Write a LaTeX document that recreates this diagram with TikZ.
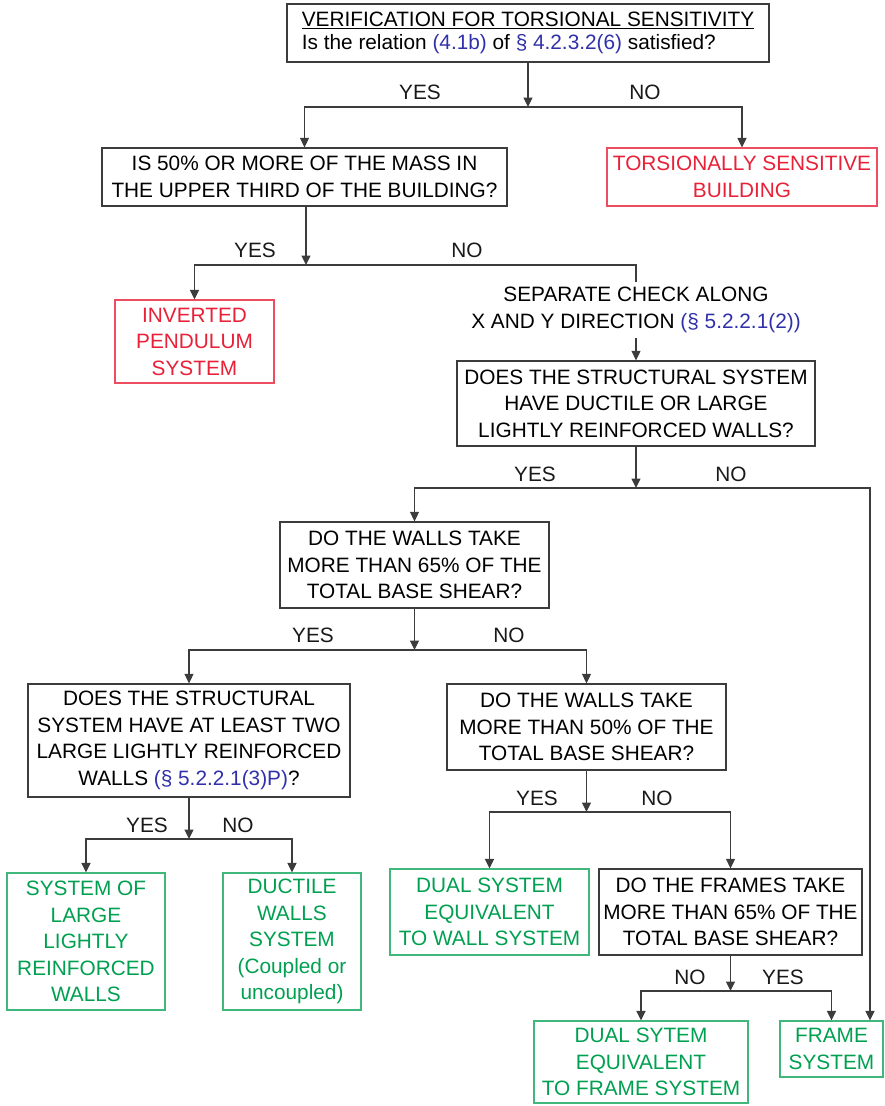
\documentclass[tikz,border=0pt]{standalone}
\usepackage{fontspec}
\setmainfont{Liberation Sans}
\usepackage{xcolor}
\usepackage{tikz}
\usetikzlibrary{arrows.meta}

\definecolor{linegray}{RGB}{60,60,60}
\definecolor{refblue}{RGB}{48,48,170}
\definecolor{alarmred}{RGB}{232,32,56}
\definecolor{okgreen}{RGB}{0,160,80}
\newcommand{\sref}[1]{\textcolor{refblue}{#1}}

\begin{document}
\begin{tikzpicture}[x=1pt, y=-1pt,
    font=\fontsize{20.8}{26.5}\selectfont,
    qbox/.style={draw=linegray, line width=1.3pt, align=center, inner sep=2pt},
    redbox/.style={draw=alarmred!80, text=alarmred, line width=1.2pt, align=center, inner sep=2pt},
    greenbox/.style={draw=okgreen!75, text=okgreen, line width=1.2pt, align=center, inner sep=2pt},
    arr/.style={draw=linegray, line width=1.3pt, -{Triangle[length=9.5pt,width=9pt]}},
    lin/.style={draw=linegray, line width=1.3pt},
    lbl/.style={text=black!90}]
\useasboundingbox (0,0) rectangle (885,1106);

% questions and outcomes
\node[qbox, align=left, minimum width=482pt, minimum height=58pt] (top) at (528,33)
  {\underline{VERIFICATION FOR TORSIONAL SENSITIVITY}\\[-3.5pt]
   Is the relation \sref{(4.1b)} of \sref{§ 4.2.3.2(6)} satisfied?};
\node[qbox, minimum width=405pt, minimum height=58pt] (mass) at (304.5,177)
  {IS 50\% OR MORE OF THE MASS IN\\THE UPPER THIRD OF THE BUILDING?};
\node[redbox, minimum width=270pt, minimum height=58pt] (tors) at (742,177)
  {TORSIONALLY SENSITIVE\\BUILDING};
\node[redbox, minimum width=159pt, minimum height=83pt] (pend) at (194.5,341.5)
  {INVERTED\\PENDULUM\\SYSTEM};
\node[align=center, minimum height=56pt, inner sep=0pt] (sep) at (636,310)
  {SEPARATE CHECK ALONG\\X AND Y DIRECTION \sref{(§ 5.2.2.1(2))}};
\node[qbox, minimum width=358pt, minimum height=85pt] (struct) at (636,403.5)
  {DOES THE STRUCTURAL SYSTEM\\HAVE DUCTILE OR LARGE\\LIGHTLY REINFORCED WALLS?};
\node[qbox, minimum width=269pt, minimum height=86pt] (wsf) at (414.5,565)
  {DO THE WALLS TAKE\\MORE THAN 65\% OF THE\\TOTAL BASE SHEAR?};
\node[qbox, minimum width=322pt, minimum height=113pt] (two) at (189,740.5)
  {DOES THE STRUCTURAL\\SYSTEM HAVE AT LEAST TWO\\LARGE LIGHTLY REINFORCED\\WALLS \sref{(§ 5.2.2.1(3)P)}?};
\node[qbox, minimum width=279pt, minimum height=86pt] (wfifty) at (586.5,727)
  {DO THE WALLS TAKE\\MORE THAN 50\% OF THE\\TOTAL BASE SHEAR?};
\node[greenbox, minimum width=158pt, minimum height=137pt] (llrw) at (86,941.5)
  {SYSTEM OF\\LARGE\\LIGHTLY\\REINFORCED\\WALLS};
\node[greenbox, minimum width=138pt, minimum height=137pt] (duct) at (292,941.5)
  {DUCTILE\\WALLS\\SYSTEM\\(Coupled or\\uncoupled)};
\node[greenbox, minimum width=199pt, minimum height=86pt] (dualw) at (489.5,912)
  {DUAL SYSTEM\\EQUIVALENT\\TO WALL SYSTEM};
\node[qbox, minimum width=263pt, minimum height=86pt] (fsf) at (730.5,912)
  {DO THE FRAMES TAKE\\MORE THAN 65\% OF THE\\TOTAL BASE SHEAR?};
\node[greenbox, minimum width=214pt, minimum height=82pt] (dualf) at (641,1062)
  {DUAL SYTEM\\EQUIVALENT\\TO FRAME SYSTEM};
\node[greenbox, minimum width=103pt, minimum height=56pt] (frame) at (831.5,1049)
  {FRAME\\SYSTEM};

% branch points
\coordinate (j1) at (528,107);
\coordinate (j2) at (306,265);
\coordinate (j3) at (636,488);
\coordinate (fr) at (870,488);
\coordinate (j4) at (414.5,650);
\coordinate (j5) at (189,839);
\coordinate (j6) at (586.5,812);
\coordinate (j7) at (730.5,991);

% connectors
\draw[arr] (top) -- (j1);
\draw[arr] (j1) -| (mass);
\draw[arr] (j1) -| (tors);
\draw[arr] (mass.south -| j2) -- (j2);
\draw[arr] (j2) -| (pend);
\draw[lin] (j2) -| (sep);
\draw[arr] (sep) -- (struct);
\draw[arr] (struct) -- (j3);
\draw[arr] (j3) -| (wsf);
\draw[arr] (j3) -- (fr) -- (fr |- frame.north);
\draw[arr] (wsf) -- (j4);
\draw[arr] (j4) -| (two);
\draw[arr] (j4) -| (wfifty);
\draw[arr] (two) -- (j5);
\draw[arr] (j5) -| (llrw);
\draw[arr] (j5) -| (duct);
\draw[arr] (wfifty) -- (j6);
\draw[arr] (j6) -| (dualw);
\draw[arr] (j6) -| (fsf);
\draw[arr] (fsf) -- (j7);
\draw[arr] (j7) -| (dualf);
\draw[arr] (j7) -| (frame);

% answers
\node[lbl] (y1) at (420,92) {YES};
\node[lbl] (n1) at (645,92) {NO};
\node[lbl] (y2) at (255,250) {YES};
\node[lbl] (n2) at (467,250) {NO};
\node[lbl] (y3) at (535,474) {YES};
\node[lbl] (n3) at (731,474) {NO};
\node[lbl] (y4) at (313,635) {YES};
\node[lbl] (n4) at (509,635) {NO};
\node[lbl] (y5) at (147,825) {YES};
\node[lbl] (n5) at (238,825) {NO};
\node[lbl] (y6) at (537,798) {YES};
\node[lbl] (n6) at (657,798) {NO};
\node[lbl] (n7) at (690,977) {NO};
\node[lbl] (y7) at (783,977) {YES};
\end{tikzpicture}
\end{document}
